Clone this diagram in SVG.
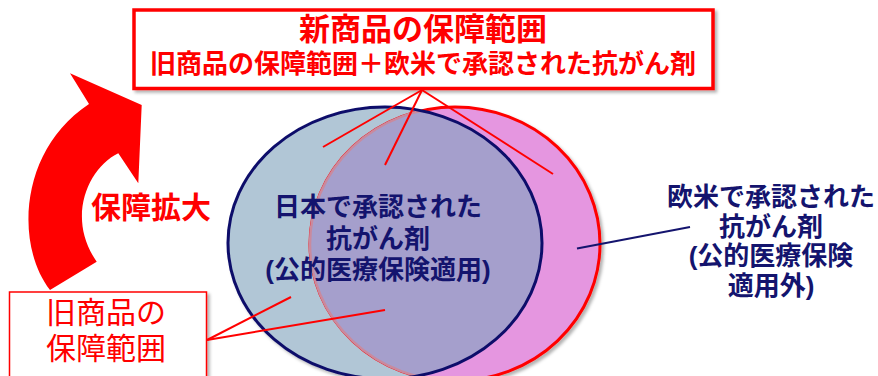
<svg xmlns="http://www.w3.org/2000/svg" width="878" height="376" viewBox="0 0 878 376">
<style>
.t{font-family:"Liberation Sans","Noto Sans CJK JP",sans-serif;text-anchor:middle}
.red{fill:#ff0000}
.navy{fill:#14146e}
.b{font-weight:bold}
.box{fill:#ffffff;stroke:#ff0000}
.cl{stroke:#ff0000;stroke-width:2;fill:none}
</style>
<defs>
<filter id="sh" x="-10%" y="-10%" width="125%" height="130%">
<feDropShadow dx="2.5" dy="2.5" stdDeviation="1.5" flood-color="#000" flood-opacity="0.3"/>
</filter>
<clipPath id="clipBlue"><ellipse cx="385" cy="243" rx="157" ry="136"/></clipPath>
</defs>
<rect width="878" height="376" fill="#ffffff"/>

<g id="venn" filter="url(#sh)">
<ellipse cx="385" cy="243" rx="157" ry="136" fill="#b1c6d6"/>
<ellipse cx="455" cy="244" rx="145" ry="137" fill="#e596e0" stroke="#ff0000" stroke-width="3"/>
<g clip-path="url(#clipBlue)">
<ellipse cx="455" cy="244" rx="145" ry="137" fill="#a59fcc" stroke="#c98a9e" stroke-width="2.5"/>
</g>
<ellipse cx="385" cy="243" rx="157" ry="136" fill="none" stroke="#0e0e6a" stroke-width="3"/>
</g>

<g id="arrow">
<path d="M 50 290 C 15 245, 19 150, 89 104 L 70 73.3 L 141.7 105 L 138.3 183.3 L 118.3 153.3 C 88 168, 66 218, 96.7 261.7 Z" fill="#ff0000"/>
</g>

<g id="top-box">
<rect class="box" x="134" y="10" width="579" height="78.5" stroke-width="3.5" filter="url(#sh)"/>
<text class="t red b" x="423" y="40" font-size="31">新商品の保障範囲</text>
<text class="t red b" x="423" y="73" font-size="26">旧商品の保障範囲＋欧米で承認された抗がん剤</text>
</g>

<g id="old-box">
<rect class="box" x="9.5" y="292" width="197" height="100" stroke-width="1.5" filter="url(#sh)"/>
<text class="t red" x="106" y="323" font-size="30">旧商品の</text>
<text class="t red" x="106" y="359" font-size="30">保障範囲</text>
</g>

<g id="label-expansion">
<text class="t red b" x="151" y="218" font-size="30">保障拡大</text>
</g>

<g id="label-japan">
<text class="t navy b" x="378" y="216" font-size="26">日本で承認された</text>
<text class="t navy b" x="378" y="248" font-size="26">抗がん剤</text>
<text class="t navy b" x="378" y="279" font-size="26">(公的医療保険適用)</text>
</g>

<g id="label-west">
<text class="t navy b" x="771" y="206" font-size="26">欧米で承認された</text>
<text class="t navy b" x="771" y="235.5" font-size="26">抗がん剤</text>
<text class="t navy b" x="771" y="265" font-size="26">(公的医療保険</text>
<text class="t navy b" x="771" y="294.5" font-size="26">適用外)</text>
</g>

<g id="connectors">
<line class="cl" x1="422" y1="90" x2="323" y2="147"/>
<line class="cl" x1="422" y1="90" x2="385" y2="165"/>
<line class="cl" x1="422" y1="90" x2="553" y2="174"/>
<line class="cl" x1="207" y1="340" x2="291" y2="297"/>
<line class="cl" x1="207" y1="340" x2="385" y2="310"/>
<line x1="690" y1="227" x2="577" y2="248.5" stroke="#14146e" stroke-width="2"/>
</g>
</svg>
